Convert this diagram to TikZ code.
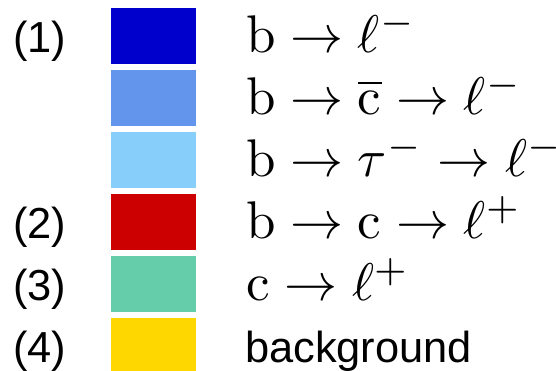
\documentclass[tikz,border=0pt]{standalone}
\usepackage{amsmath}
\usepackage{fontspec}
\newfontfamily\arialfont{Liberation Sans}
\usetikzlibrary{positioning, calc}
\definecolor{legdarkblue}{RGB}{0,0,204}
\definecolor{legmidblue}{RGB}{100,149,237}
\definecolor{leglightblue}{RGB}{135,206,250}
\definecolor{legred}{RGB}{204,0,0}
\definecolor{leggreen}{RGB}{102,205,170}
\definecolor{leggold}{RGB}{255,215,0}

\begin{document}
\begin{tikzpicture}[
  x=1pt, y=-1pt,
  swatch/.style={rectangle, fill=#1, minimum width=85pt, minimum height=56pt,
                 inner sep=0pt, anchor=north west},
  num/.style={inner sep=0pt, anchor=base west, font=\arialfont\fontsize{43.4}{50}\selectfont},
  decay/.style={inner sep=0pt, anchor=base west, font=\fontsize{10}{12}\selectfont,
                scale=5.3, transform shape},
  node distance=5.6pt
]
\useasboundingbox (0,0) rectangle (556,370);

%% Colour swatches
\node[swatch=legdarkblue]                  (sw1) at (111,8) {};
\node[swatch=legmidblue,  below=of sw1]    (sw2) {};
\node[swatch=leglightblue, below=of sw2]   (sw3) {};
\node[swatch=legred,      below=of sw3]    (sw4) {};
\node[swatch=leggreen,    below=of sw4]    (sw5) {};
\node[swatch=leggold,     below=of sw5]    (sw6) {};

%% Group numbers
\node[num] (n1) at ($(13,0|-sw1.south)+(0,-12)$) {(1)};
\node[num] (n2) at ($(13,0|-sw4.south)+(0,-12)$) {(2)};
\node[num] (n3) at ($(13,0|-sw5.south)+(0,-12)$) {(3)};
\node[num] (n4) at ($(13,0|-sw6.south)+(0,-12)$) {(4)};

%% Decay chains
\node[decay] (d1) at ($(245,0|-sw1.south)+(0,-12)$) {$\mathrm{b}\rightarrow\ell^{-}$};
\node[decay] (d2) at ($(245,0|-sw2.south)+(0,-12)$) {$\mathrm{b}\rightarrow\overline{\mathrm{c}}\rightarrow\ell^{-}$};
\node[decay] (d3) at ($(245,0|-sw3.south)+(0,-12)$) {$\mathrm{b}\rightarrow\tau^{-}\rightarrow\ell^{-}$};
\node[decay] (d4) at ($(245,0|-sw4.south)+(0,-12)$) {$\mathrm{b}\rightarrow\mathrm{c}\rightarrow\ell^{+}$};
\node[decay] (d5) at ($(245,0|-sw5.south)+(0,-12)$) {$\mathrm{c}\rightarrow\ell^{+}$};
\node[num]   (d6) at ($(245,0|-sw6.south)+(0,-12)$) {background};
\end{tikzpicture}
\end{document}
